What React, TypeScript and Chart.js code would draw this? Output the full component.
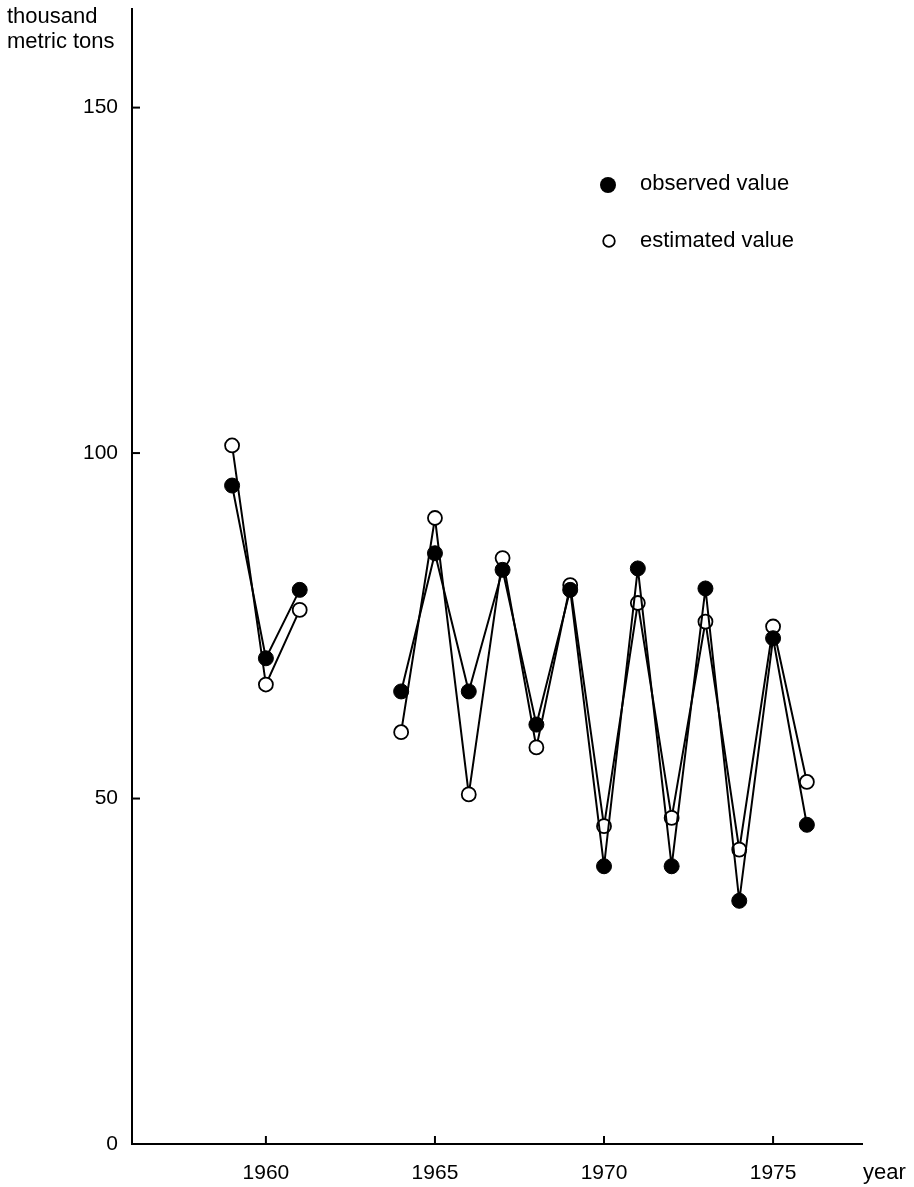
import React, { useEffect, useRef } from "react";
import { Chart, registerables } from "chart.js";

Chart.register(...registerables);

const years = [1959, 1960, 1961, 1962, 1963, 1964, 1965, 1966, 1967, 1968, 1969, 1970, 1971, 1972, 1973, 1974, 1975, 1976];
const observed = [95.3, 70.3, 80.2, null, null, 65.5, 85.5, 65.5, 83.1, 60.7, 80.2, 40.2, 83.3, 40.2, 80.4, 35.2, 73.2, 46.2];
const estimated = [101.1, 66.5, 77.3, null, null, 59.6, 90.6, 50.6, 84.8, 57.4, 80.9, 46.0, 78.3, 47.2, 75.6, 42.6, 74.9, 52.4];
const yTickValues = [0, 50, 100, 150];
const xTickValues = [1960, 1965, 1970, 1975];
const yAxisTitle = ["thousand", "metric tons"];
const xAxisTitle = "year";
const legendLabels = ["observed value", "estimated value"];

const TEXT_FONT = "'Liberation Sans', Arial, Helvetica, sans-serif";
const NUM_FONT = "'Liberation Sans', Arial, Helvetica, sans-serif";

const decorPlugin = {
  id: "decor",
  afterDraw(chart: any) {
    const ctx = chart.ctx;
    const xs = chart.scales.x;
    const ys = chart.scales.y;
    const area = chart.chartArea;
    ctx.save();
    ctx.strokeStyle = "#000";
    ctx.lineWidth = 2;
    yTickValues.forEach((v) => {
      if (v === 0) return;
      const py = ys.getPixelForValue(v);
      ctx.beginPath();
      ctx.moveTo(area.left, py);
      ctx.lineTo(area.left + 8, py);
      ctx.stroke();
    });
    xTickValues.forEach((v) => {
      const px = xs.getPixelForValue(v);
      ctx.beginPath();
      ctx.moveTo(px, area.bottom);
      ctx.lineTo(px, area.bottom - 8);
      ctx.stroke();
    });

    ctx.fillStyle = "#000";
    ctx.font = `22px ${TEXT_FONT}`;
    ctx.textBaseline = "middle";
    ctx.textAlign = "left";
    ctx.fillText(yAxisTitle[0], 7, 17);
    ctx.fillText(yAxisTitle[1], 7, 42);
    ctx.fillText(xAxisTitle, area.right + 1, 1173);

    // legend
    ctx.beginPath();
    ctx.arc(608, 185, 8, 0, Math.PI * 2);
    ctx.fill();
    ctx.beginPath();
    ctx.lineWidth = 1.8;
    ctx.arc(609, 241, 5.8, 0, Math.PI * 2);
    ctx.fillStyle = "#fff";
    ctx.fill();
    ctx.stroke();
    ctx.fillStyle = "#000";
    ctx.fillText(legendLabels[0], 640, 184);
    ctx.fillText(legendLabels[1], 640, 241);
    ctx.restore();
  },
};

export default function App() {
  const canvasRef = useRef<HTMLCanvasElement | null>(null);

  useEffect(() => {
    document.body.style.margin = "0";
    const canvas = canvasRef.current;
    if (!canvas) return;
    const obsData = years.map((yr, i) => ({ x: yr, y: observed[i] }));
    const estData = years.map((yr, i) => ({ x: yr, y: estimated[i] }));
    const chart = new Chart(canvas, {
      type: "line",
      data: {
        datasets: [
          {
            label: legendLabels[0],
            data: obsData as any,
            borderColor: "#000",
            borderWidth: 2,
            backgroundColor: "#000",
            pointBackgroundColor: "#000",
            pointBorderColor: "#000",
            pointBorderWidth: 1,
            pointRadius: 7.5,
            spanGaps: false,
            tension: 0,
          },
          {
            label: legendLabels[1],
            data: estData as any,
            borderColor: "#000",
            borderWidth: 2,
            backgroundColor: "#fff",
            pointBackgroundColor: "#fff",
            pointBorderColor: "#000",
            pointBorderWidth: 1.8,
            pointRadius: 7,
            spanGaps: false,
            tension: 0,
          },
        ],
      },
      options: {
        responsive: false,
        animation: false,
        devicePixelRatio: 1,
        layout: { padding: { left: 0, right: 52, top: 5, bottom: 0 } },
        plugins: {
          legend: { display: false },
          tooltip: { enabled: false },
          title: { display: false },
        },
        scales: {
          x: {
            type: "linear",
            min: 1956.04,
            max: 1977.63,
            afterFit: (s: any) => {
              s.height = 43;
              s.paddingLeft = 0;
              s.paddingRight = 0;
            },
            afterBuildTicks: (s: any) => {
              s.ticks = xTickValues.map((v) => ({ value: v }));
            },
            grid: { display: false, drawTicks: false },
            border: { display: true, color: "#000", width: 2 },
            ticks: {
              autoSkip: false,
              maxRotation: 0,
              padding: 17,
              color: "#000",
              font: { family: NUM_FONT, size: 21 },
              callback: (v: any) => String(v),
            },
          },
          y: {
            type: "linear",
            min: 0,
            max: 164.3,
            afterFit: (s: any) => {
              s.width = 132;
              s.paddingTop = 0;
              s.paddingBottom = 0;
            },
            afterBuildTicks: (s: any) => {
              s.ticks = yTickValues.map((v) => ({ value: v }));
            },
            grid: { display: false, drawTicks: false },
            border: { display: true, color: "#000", width: 2 },
            ticks: {
              padding: 14,
              color: "#000",
              font: { family: NUM_FONT, size: 21 },
              callback: (v: any) => String(v),
            },
          },
        },
      },
      plugins: [decorPlugin],
    });
    return () => chart.destroy();
  }, []);

  return (
    <div style={{ width: 914, height: 1187, overflow: "hidden", background: "#fff" }}>
      <canvas ref={canvasRef} width={914} height={1187} style={{ display: "block" }} />
    </div>
  );
}
